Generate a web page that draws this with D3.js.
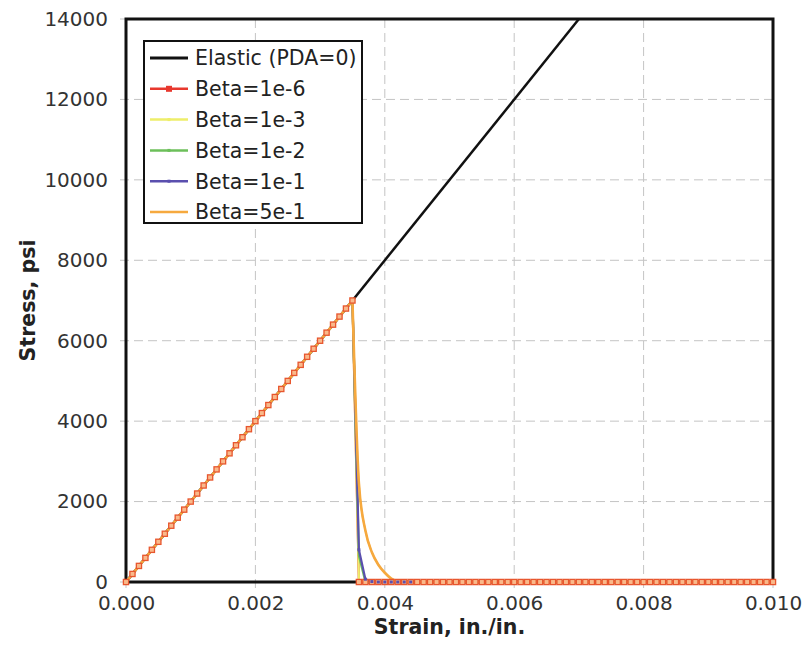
<!DOCTYPE html>
<html>
<head>
<meta charset="utf-8">
<script src="https://cdn.jsdelivr.net/npm/d3@7"></script>
<style>
  body { margin: 0; background: #fff; }
  svg { display: block; font-family: "DejaVu Sans", Verdana, sans-serif; }
</style>
</head>
<body>
<div id="graph"></div>
<script>
// strain values shared by every Beta series (in./in.)
const strain = [
  0.0000,0.0001,0.0002,0.0003,0.0004,0.0005,0.0006,0.0007,0.0008,0.0009,
  0.0010,0.0011,0.0012,0.0013,0.0014,0.0015,0.0016,0.0017,0.0018,0.0019,
  0.0020,0.0021,0.0022,0.0023,0.0024,0.0025,0.0026,0.0027,0.0028,0.0029,
  0.0030,0.0031,0.0032,0.0033,0.0034,0.0035,0.0036,0.0037,0.0038,0.0039,
  0.0040,0.0041,0.0042,0.0043,0.0044,0.0045,0.0046,0.0047,0.0048,0.0049,
  0.0050,0.0051,0.0052,0.0053,0.0054,0.0055,0.0056,0.0057,0.0058,0.0059,
  0.0060,0.0061,0.0062,0.0063,0.0064,0.0065,0.0066,0.0067,0.0068,0.0069,
  0.0070,0.0071,0.0072,0.0073,0.0074,0.0075,0.0076,0.0077,0.0078,0.0079,
  0.0080,0.0081,0.0082,0.0083,0.0084,0.0085,0.0086,0.0087,0.0088,0.0089,
  0.0090,0.0091,0.0092,0.0093,0.0094,0.0095,0.0096,0.0097,0.0098,0.0099,
  0.0100
]

// rising branch (strain 0 .. 0.0035), same for all Beta curves
const riseStress = [
  0,200,400,600,800,1000,1200,1400,1600,1800,
  2000,2200,2400,2600,2800,3000,3200,3400,3600,3800,
  4000,4200,4400,4600,4800,5000,5200,5400,5600,5800,
  6000,6200,6400,6600,6800,7000
]

// softening branch (strain 0.0036 .. 0.0100)
const tail1e6 = [
  0,0,0,0,0,0,0,0,0,0,0,0,0,
  0,0,0,0,0,0,0,0,0,0,0,0,0,
  0,0,0,0,0,0,0,0,0,0,0,0,0,
  0,0,0,0,0,0,0,0,0,0,0,0,0,
  0,0,0,0,0,0,0,0,0,0,0,0,0
]
const tail1e3 = [
  70,0,0,0,0,0,0,0,0,0,0,0,0,
  0,0,0,0,0,0,0,0,0,0,0,0,0,
  0,0,0,0,0,0,0,0,0,0,0,0,0,
  0,0,0,0,0,0,0,0,0,0,0,0,0,
  0,0,0,0,0,0,0,0,0,0,0,0,0
]
const tail1e2 = [
  650,5,0,0,0,0,0,0,0,0,0,0,0,
  0,0,0,0,0,0,0,0,0,0,0,0,0,
  0,0,0,0,0,0,0,0,0,0,0,0,0,
  0,0,0,0,0,0,0,0,0,0,0,0,0,
  0,0,0,0,0,0,0,0,0,0,0,0,0
]
const tail1e1 = [
  800,70,10,0,0,0,0,0,0,0,0,0,0,
  0,0,0,0,0,0,0,0,0,0,0,0,0,
  0,0,0,0,0,0,0,0,0,0,0,0,0,
  0,0,0,0,0,0,0,0,0,0,0,0,0,
  0,0,0,0,0,0,0,0,0,0,0,0,0
]
const tail5e1 = [
  2450,1280,740,430,230,85,12,0,0,0,0,0,0,
  0,0,0,0,0,0,0,0,0,0,0,0,0,
  0,0,0,0,0,0,0,0,0,0,0,0,0,
  0,0,0,0,0,0,0,0,0,0,0,0,0,
  0,0,0,0,0,0,0,0,0,0,0,0,0
]

// elastic line (no damage)
const elasticStrain = [0, 0.007]
const elasticStress = [0, 14000]

const xTicks = [0, 0.002, 0.004, 0.006, 0.008, 0.010]
const yTicks = [0, 2000, 4000, 6000, 8000, 10000, 12000, 14000]

const seriesNames = ['Beta=1e-6', 'Beta=1e-3', 'Beta=1e-2', 'Beta=1e-1', 'Beta=5e-1']
const seriesTails = [tail1e6, tail1e3, tail1e2, tail1e1, tail5e1]
const seriesColors = ['#e8382e', '#eeee6a', '#6cbf5a', '#5a4fae', '#f6a93e']

const width = 808, height = 664
const margin = { left: 126, right: 35, top: 19, bottom: 82 }
const graphWidth = width - margin.left - margin.right
const graphHeight = height - margin.top - margin.bottom

const x = d3.scaleLinear().domain([0, 0.01]).range([0, graphWidth])
const y = d3.scaleLinear().domain([0, 14000]).range([graphHeight, 0])

const svg = d3.select('#graph').append('svg')
    .attr('width', width)
    .attr('height', height)

const g = svg.append('g').attr('transform', 'translate(' + margin.left + ',' + margin.top + ')')

svg.append('defs').append('clipPath').attr('id', 'plot')
    .append('rect').attr('x', 0).attr('y', -2).attr('width', graphWidth).attr('height', graphHeight + 4)

// gridlines, dashed, poking out past the frame like ticks
g.selectAll('.hgrid').data(yTicks).enter().append('line')
    .attr('x1', -6).attr('x2', graphWidth)
    .attr('y1', d => y(d)).attr('y2', d => y(d))
    .attr('stroke', '#c4c4c4').attr('stroke-width', 1).attr('stroke-dasharray', '9,5')

g.selectAll('.vgrid').data(xTicks).enter().append('line')
    .attr('x1', d => x(d)).attr('x2', d => x(d))
    .attr('y1', 0).attr('y2', graphHeight + 7)
    .attr('stroke', '#c4c4c4').attr('stroke-width', 1).attr('stroke-dasharray', '9,5')

// axes (labels only)
const yAxis = g.append('g')
    .call(d3.axisLeft(y).tickValues(yTicks).tickSize(0).tickPadding(18).tickFormat(d3.format('d')))
const xAxis = g.append('g').attr('transform', 'translate(0,' + graphHeight + ')')
    .call(d3.axisBottom(x).tickValues(xTicks).tickSize(0).tickPadding(14).tickFormat(d3.format('.3f')))
;[yAxis, xAxis].forEach(a => {
    a.select('.domain').remove()
    a.selectAll('text').attr('font-size', 20).attr('fill', '#333').attr('font-family', '"DejaVu Sans", Verdana, sans-serif')
})

// frame
g.append('rect')
    .attr('width', graphWidth).attr('height', graphHeight)
    .attr('fill', 'none').attr('stroke', '#111').attr('stroke-width', 3)

const line = d3.line().x(d => x(d[0])).y(d => y(d[1]))
const smooth = d3.line().x(d => x(d[0])).y(d => y(d[1])).curve(d3.curveMonotoneX)
const plot = g.append('g').attr('clip-path', 'url(#plot)')
const peak = riseStress.length - 1

// elastic
plot.append('path')
    .datum(elasticStrain.map((s, i) => [s, elasticStress[i]]))
    .attr('d', line).attr('fill', 'none').attr('stroke', '#111').attr('stroke-width', 2.5)

const drawOrange = (pts, w, op) => {
    // straight up to the peak, smoothed softening after it
    plot.append('path').datum(pts.slice(0, peak + 1)).attr('d', line)
        .attr('fill', 'none').attr('stroke', seriesColors[4]).attr('stroke-width', w).attr('opacity', op)
    plot.append('path').datum(pts.slice(peak)).attr('d', smooth)
        .attr('fill', 'none').attr('stroke', seriesColors[4]).attr('stroke-width', w).attr('opacity', op)
}

let orangePts
seriesNames.forEach((name, k) => {
    const stress = riseStress.concat(seriesTails[k])
    const pts = strain.map((s, i) => [s, stress[i]])
    if (k === 4) {
        orangePts = pts
        drawOrange(pts, 2.6, 1)
    } else {
        plot.append('path').datum(pts)
            .attr('d', line)
            .attr('fill', 'none').attr('stroke', seriesColors[k]).attr('stroke-width', 2.2)
    }

    if (k === 0) {
        g.selectAll('.sq').data(pts).enter().append('rect')
            .attr('x', d => x(d[0]) - 2.6).attr('y', d => y(d[1]) - 2.6)
            .attr('width', 5.2).attr('height', 5.2)
            .attr('fill', '#f9b98a').attr('stroke', '#e8562e').attr('stroke-width', 1.3)
    } else if (k === 3) {
        g.selectAll('.bm').data(pts.filter(d => d[0] > 0.00355 && d[0] < 0.0045)).enter().append('rect')
            .attr('x', d => x(d[0]) - 1.5).attr('y', d => y(d[1]) - 1.5)
            .attr('width', 3).attr('height', 3).attr('fill', seriesColors[k])
    }
})

// redraw orange over the red squares
drawOrange(orangePts, 1.6, 0.8)

// axis titles
svg.append('text')
    .attr('transform', 'translate(35,' + (margin.top + graphHeight / 2) + ') rotate(-90)')
    .attr('text-anchor', 'middle').attr('font-weight', 'bold').attr('font-size', 20.5).attr('fill', '#222')
    .text('Stress, psi')
svg.append('text')
    .attr('x', margin.left + graphWidth / 2).attr('y', 634)
    .attr('text-anchor', 'middle').attr('font-weight', 'bold').attr('font-size', 20.5).attr('fill', '#222')
    .text('Strain, in./in.')

// legend
const legNames = ['Elastic (PDA=0)'].concat(seriesNames)
const legColors = ['#111'].concat(seriesColors)
const leg = svg.append('g').attr('transform', 'translate(144,41)')
leg.append('rect').attr('width', 218).attr('height', 182)
    .attr('fill', '#fff').attr('stroke', '#111').attr('stroke-width', 2)
legNames.forEach((n, i) => {
    const yy = 17 + i * 30.8
    leg.append('line').attr('x1', 6).attr('x2', 44).attr('y1', yy).attr('y2', yy)
        .attr('stroke', legColors[i]).attr('stroke-width', i === 0 ? 3 : 2.5)
    if (i === 1) {
        leg.append('rect').attr('x', 22).attr('y', yy - 3).attr('width', 6).attr('height', 6)
            .attr('fill', legColors[i])
    } else if (i > 1 && i < 5) {
        leg.append('rect').attr('x', 23.5).attr('y', yy - 1.5).attr('width', 3).attr('height', 3)
            .attr('fill', legColors[i])
    }
    leg.append('text').attr('x', 51).attr('y', yy).attr('dy', '0.36em')
        .attr('font-size', 20.5).attr('fill', '#222').text(n)
})
</script>
</body>
</html>
